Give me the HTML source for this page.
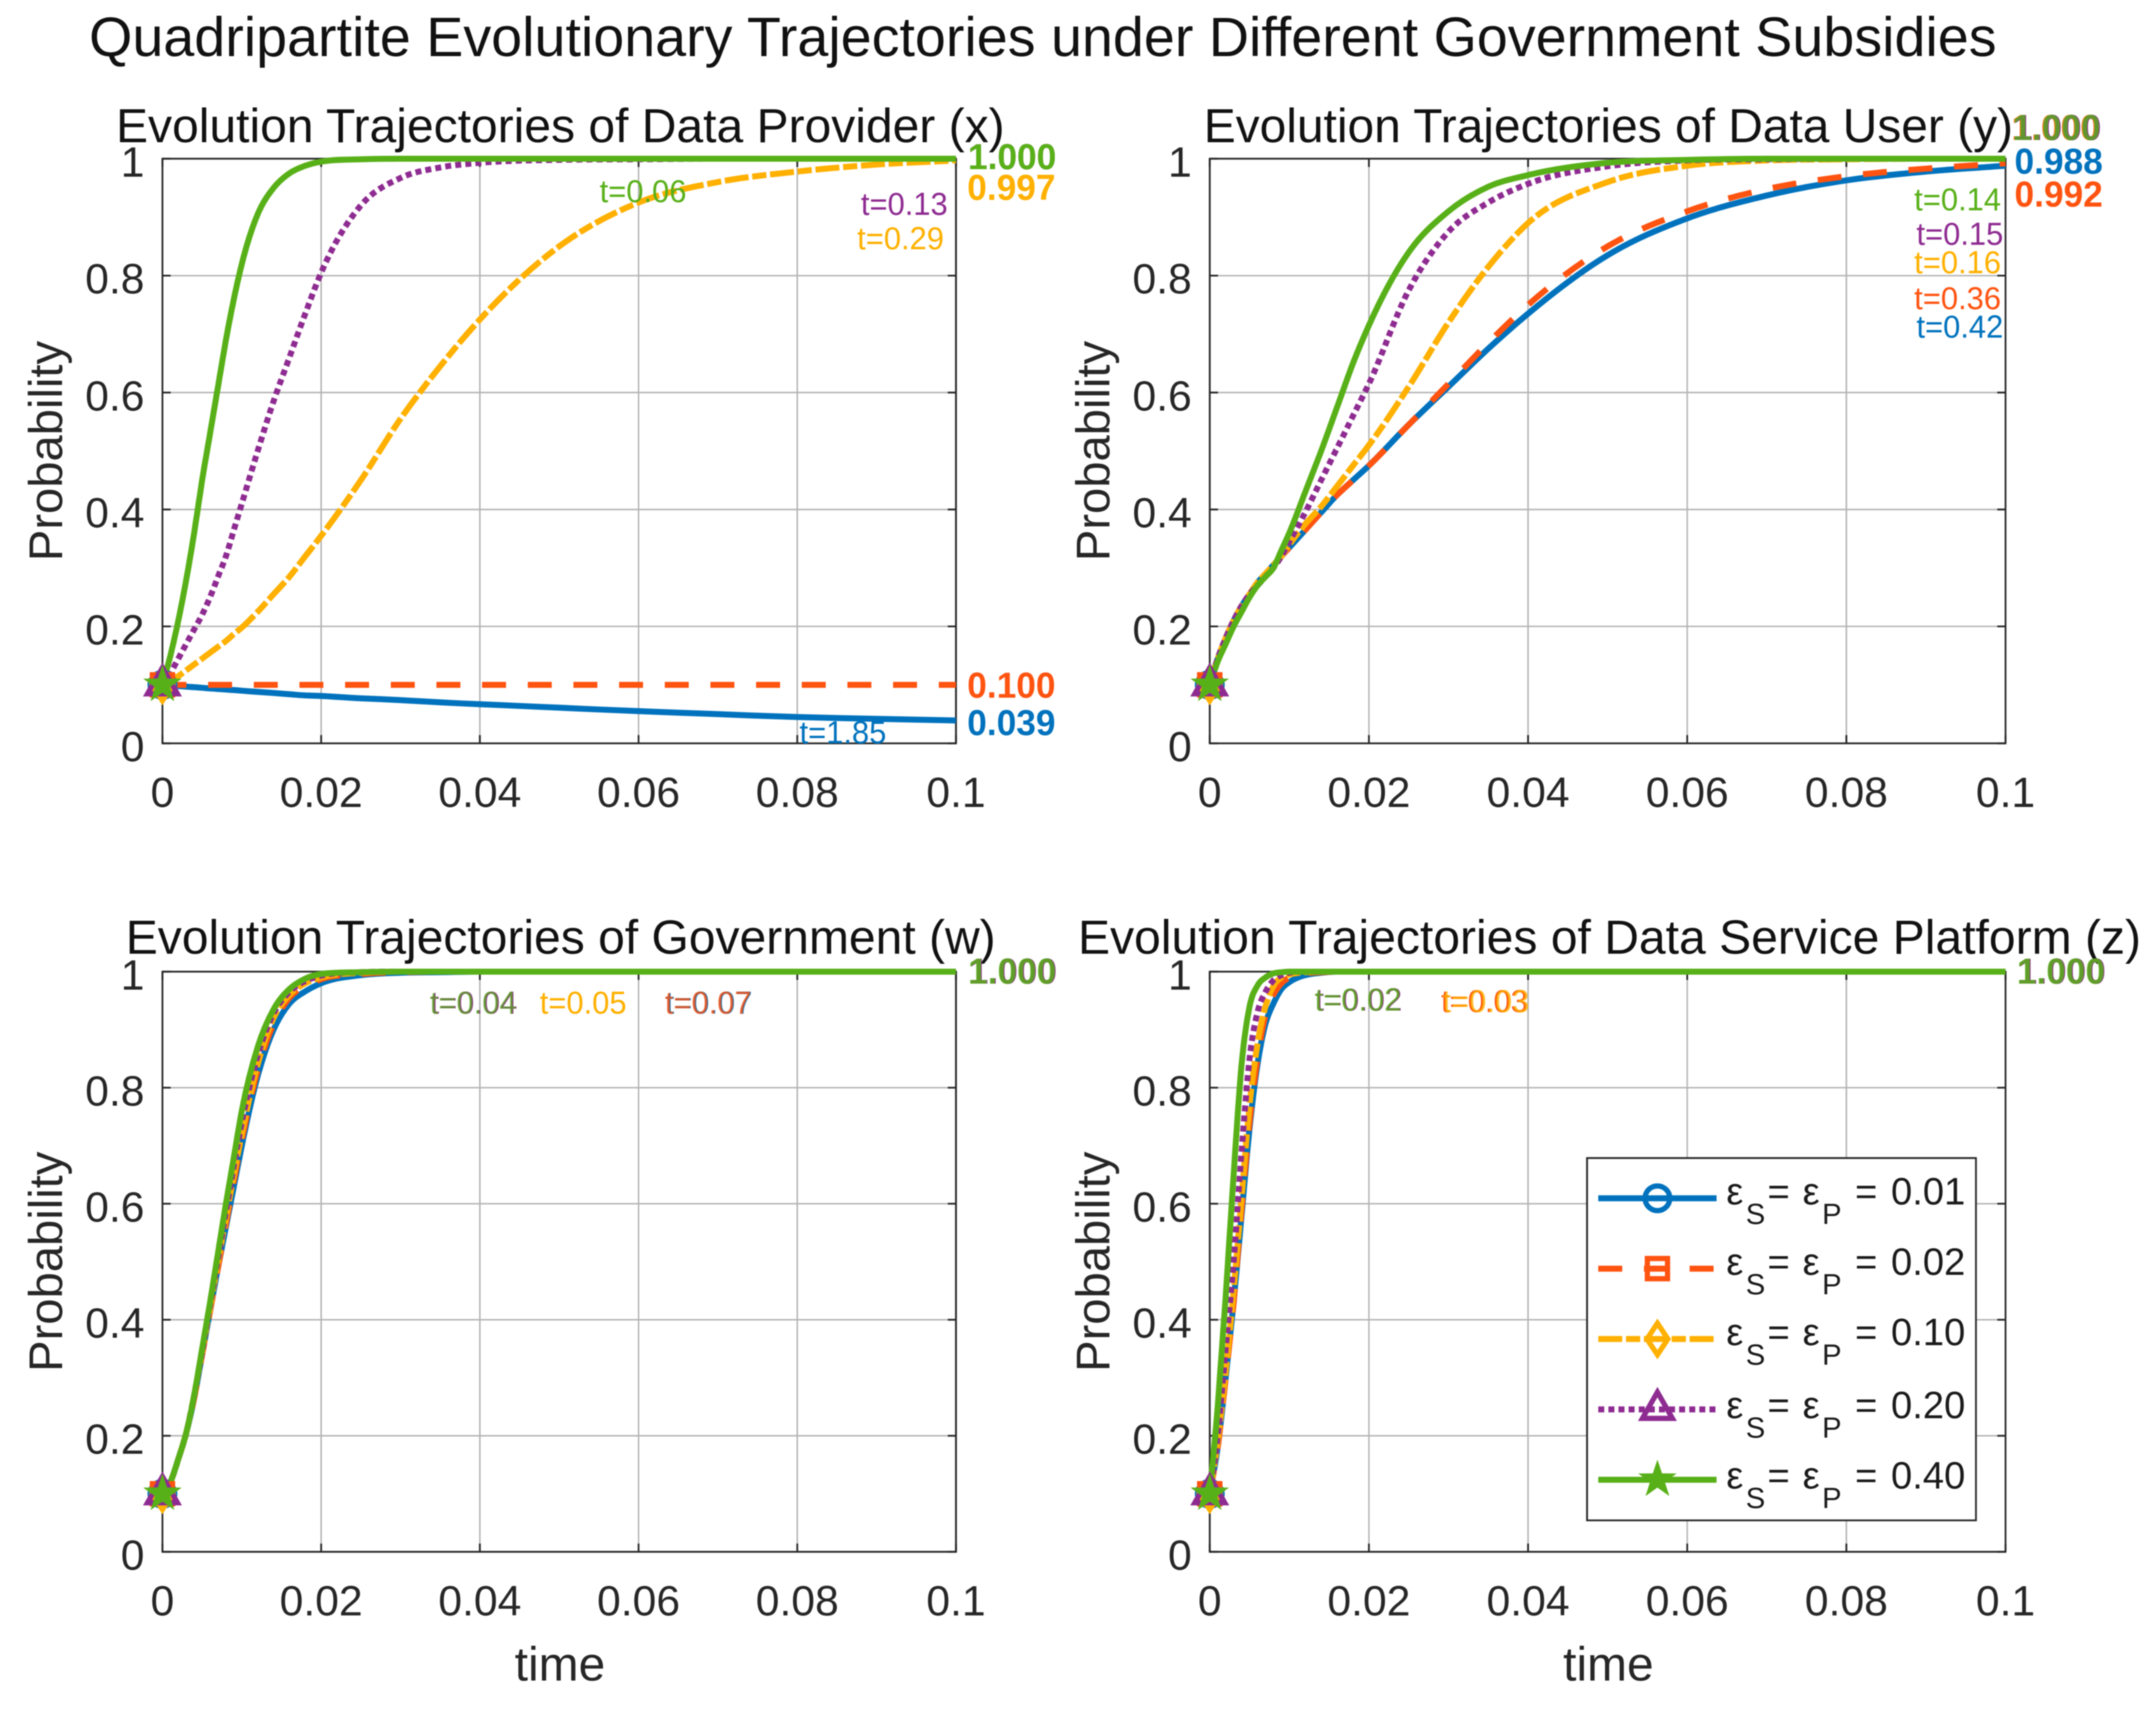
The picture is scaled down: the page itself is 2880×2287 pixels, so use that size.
<!DOCTYPE html>
<html lang="en">
<head>
<meta charset="utf-8">
<title>Quadripartite Evolutionary Trajectories</title>
<style>
html,body{margin:0;padding:0;background:#fff;}
svg{display:block;filter:blur(0.7px);}
text{font-family:"Liberation Sans",sans-serif;}
</style>
</head>
<body>
<svg id="figure" xmlns="http://www.w3.org/2000/svg" width="2880" height="2287" viewBox="0 0 2880 2287">
<rect x="0" y="0" width="2880" height="2287" fill="#fff"/>
<text x="119" y="75" font-size="74" fill="#111" textLength="2548" lengthAdjust="spacingAndGlyphs">Quadripartite Evolutionary Trajectories under Different Government Subsidies</text>
</svg>
<script>
const timeGrid = [0,.001,.002,.003,.004,.005,.006,.007,.008,.009,.01,.012,.014,.016,.018,.02,.025,.03,.035,.04,.05,.06,.07,.08,.09,.1];
const xTickValues = [0,.02,.04,.06,.08,.1];
const xTickLabels = ['0','0.02','0.04','0.06','0.08','0.1'];
const yTickValues = [0,.2,.4,.6,.8,1];
const yTickLabels = ['0','0.2','0.4','0.6','0.8','1'];
const seriesNames = ['eps-001','eps-002','eps-010','eps-020','eps-040'];
const legendValues = ['0.01','0.02','0.10','0.20','0.40'];

const providerBlue = [.1,.099,.098,.097,.096,.095,.094,.093,.092,.091,.09,.088,.086,.084,.082,.081,.077,.074,.07,.067,.061,.055,.05,.045,.042,.039];
const providerRed = [.1,.1,.1,.1,.1,.1,.1,.1,.1,.1,.1,.1,.1,.1,.1,.1,.1,.1,.1,.1,.1,.1,.1,.1,.1,.1];
const providerYellow = [.1,.107,.115,.125,.135,.145,.155,.165,.175,.187,.198,.225,.255,.285,.32,.355,.45,.555,.645,.725,.85,.925,.96,.978,.99,.997];
const providerPurple = [.1,.12,.145,.17,.195,.22,.25,.285,.32,.365,.41,.5,.585,.66,.735,.805,.92,.967,.985,.993,.998,.999,1,1,1,1];
const providerGreen = [.1,.15,.21,.28,.36,.45,.53,.61,.69,.76,.82,.905,.95,.975,.988,.995,.999,1,1,1,1,1,1,1,1,1];

const userBlue = [.1,.145,.18,.21,.235,.255,.275,.29,.305,.32,.335,.365,.395,.425,.45,.475,.545,.61,.675,.735,.835,.898,.937,.963,.978,.988];
const userRed = [.1,.145,.18,.21,.235,.255,.275,.29,.305,.32,.335,.365,.395,.425,.45,.475,.545,.615,.685,.75,.85,.91,.948,.97,.983,.992];
const userYellow = [.1,.145,.18,.21,.235,.255,.275,.29,.305,.32,.34,.375,.405,.44,.475,.51,.61,.72,.815,.89,.96,.988,.997,.999,1,1];
const userPurple = [.1,.145,.18,.21,.235,.255,.27,.285,.3,.32,.345,.395,.45,.505,.56,.615,.775,.875,.925,.957,.987,.997,.999,1,1,1];
const userGreen = [.1,.14,.17,.2,.225,.25,.27,.285,.3,.33,.36,.43,.5,.575,.65,.715,.84,.91,.952,.972,.993,.998,1,1,1,1];

const governmentBlue = [.1,.12,.16,.205,.265,.34,.415,.49,.56,.63,.7,.82,.9,.945,.966,.98,.994,.998,.999,1,1,1,1,1,1,1];
const governmentRed = [.1,.12,.16,.205,.265,.34,.415,.49,.565,.64,.71,.83,.91,.955,.975,.987,.996,.999,1,1,1,1,1,1,1,1];
const governmentYellow = [.1,.12,.16,.205,.27,.345,.42,.5,.575,.65,.72,.84,.92,.96,.98,.99,.998,1,1,1,1,1,1,1,1,1];
const governmentPurple = [.1,.12,.16,.205,.27,.345,.425,.505,.585,.665,.74,.855,.928,.965,.984,.993,.999,1,1,1,1,1,1,1,1,1];
const governmentGreen = [.1,.12,.16,.205,.27,.35,.43,.515,.6,.68,.76,.87,.935,.97,.988,.996,.999,1,1,1,1,1,1,1,1,1];

const platformBlue = [.1,.18,.3,.43,.58,.73,.84,.91,.945,.97,.982,.994,.998,1,1,1,1,1,1,1,1,1,1,1,1,1];
const platformRed = [.1,.18,.3,.43,.59,.74,.85,.925,.96,.98,.99,.997,.999,1,1,1,1,1,1,1,1,1,1,1,1,1];
const platformYellow = [.1,.19,.31,.45,.61,.77,.875,.94,.975,.99,.995,.999,1,1,1,1,1,1,1,1,1,1,1,1,1,1];
const platformPurple = [.1,.2,.35,.5,.69,.85,.93,.965,.985,.994,.998,1,1,1,1,1,1,1,1,1,1,1,1,1,1,1];
const platformGreen = [.1,.25,.44,.65,.84,.94,.976,.99,.997,.999,1,1,1,1,1,1,1,1,1,1,1,1,1,1,1,1];

const SVGNS = 'http://www.w3.org/2000/svg';
const figure = document.getElementById('figure');
const COLORS = ['#0072BD','#FF5310','#FFB000','#8E2B91','#58B018'];
const DASHES = ['', '32 29', '32 5 19 5', '8 5.5', ''];
const WIDTHS = [8,8,8,8,8];

function make(tag, attrs, parent){
  const el = document.createElementNS(SVGNS, tag);
  for(const k in attrs){ el.setAttribute(k, attrs[k]); }
  parent.appendChild(el);
  return el;
}
function write(str, x, y, size, fill, parent, opts){
  const o = opts || {};
  const el = make('text', {x:x, y:y, 'font-size':size, fill:fill}, parent);
  if(o.anchor){ el.setAttribute('text-anchor', o.anchor); }
  if(o.bold){ el.setAttribute('font-weight', 'bold'); }
  if(o.len){ el.setAttribute('textLength', o.len); el.setAttribute('lengthAdjust', 'spacingAndGlyphs'); }
  if(o.rotate){ el.setAttribute('transform', 'rotate(-90 '+x+' '+y+')'); }
  if(o.opacity){ el.setAttribute('fill-opacity', o.opacity); }
  el.textContent = str;
  return el;
}
function smoothPath(xs, ys){
  const n = xs.length, h = [], d = [], m = [];
  for(let i=0;i<n-1;i++){ h.push(xs[i+1]-xs[i]); d.push((ys[i+1]-ys[i])/h[i]); }
  m.push(d[0]);
  for(let i=1;i<n-1;i++){
    if(d[i-1]*d[i]<=0){ m.push(0); continue; }
    let s = (h[i]*d[i-1]+h[i-1]*d[i])/(h[i-1]+h[i]);
    const lim = 3*Math.min(Math.abs(d[i-1]),Math.abs(d[i]));
    if(Math.abs(s)>lim){ s = Math.sign(s)*lim; }
    m.push(s);
  }
  m.push(d[n-2]);
  let p = 'M'+xs[0].toFixed(1)+' '+ys[0].toFixed(1);
  for(let i=0;i<n-1;i++){
    const t = h[i]/3;
    p += 'C'+(xs[i]+t).toFixed(1)+' '+(ys[i]+m[i]*t).toFixed(1)+' '+(xs[i+1]-t).toFixed(1)+' '+(ys[i+1]-m[i+1]*t).toFixed(1)+' '+xs[i+1].toFixed(1)+' '+ys[i+1].toFixed(1);
  }
  return p;
}
function starPoints(cx, cy, R, r){
  const pts = [];
  for(let i=0;i<10;i++){
    const a = -Math.PI/2 + i*Math.PI/5, q = i%2 ? r : R;
    pts.push((cx+q*Math.cos(a)).toFixed(1)+','+(cy+q*Math.sin(a)).toFixed(1));
  }
  return pts.join(' ');
}
function drawMarker(idx, cx, cy, parent){
  const c = COLORS[idx];
  const base = {fill:'none', stroke:c, 'stroke-width':7};
  let el;
  if(idx===0){ el = make('circle', Object.assign({cx:cx, cy:cy, r:16.5}, base), parent); }
  if(idx===1){ el = make('rect', Object.assign({x:cx-13.5, y:cy-13.5, width:27, height:27}, base), parent); }
  if(idx===2){ el = make('polygon', Object.assign({points:cx+','+(cy-21)+' '+(cx+14)+','+cy+' '+cx+','+(cy+21)+' '+(cx-14)+','+cy}, base), parent); }
  if(idx===3){ el = make('polygon', Object.assign({points:cx+','+(cy-23)+' '+(cx+20)+','+(cy+12)+' '+(cx-20)+','+(cy+12)}, base), parent); }
  if(idx===4){ el = make('polygon', {points:starPoints(cx, cy, 27, 10.5), fill:c}, parent); }
  return el;
}

const panels = [
 {key:'data-provider', title:'Evolution Trajectories of Data Provider (x)', tx:155, ty:190, tlen:1187, L:217, R:1277, T:212, B:993,
  series:[providerBlue,providerRed,providerYellow,providerPurple,providerGreen], xlabel:false,
  notes:[['t=0.06',801,270,4],['t=0.13',1150,287,3],['t=0.29',1145,333,2],['t=1.85',1068,993,0]],
  ends:[['1.000',1293,226,3],['1.000',1293,226,4],['0.997',1292,267,2],['0.100',1292,932,1],['0.039',1292,982,0]]},
 {key:'data-user', title:'Evolution Trajectories of Data User (y)', tx:1608, ty:190, tlen:1081, L:1616, R:2679, T:212, B:993,
  series:[userBlue,userRed,userYellow,userPurple,userGreen], xlabel:false,
  notes:[['t=0.14',2557,281,4],['t=0.15',2560,327,3],['t=0.16',2557,365,2],['t=0.36',2557,413,1],['t=0.42',2560,451,0]],
  ends:[['1.000',2687,187,1],['1.000',2688,187,2],['1.000',2689,187,3],['1.000',2688,187,4,.8],['0.988',2691,232,0],['0.992',2691,276,1]]},
 {key:'government', title:'Evolution Trajectories of Government (w)', tx:168, ty:1274, tlen:1162, L:217, R:1277, T:1298, B:2073,
  series:[governmentBlue,governmentRed,governmentYellow,governmentPurple,governmentGreen], xlabel:true,
  notes:[['t=0.04',575,1354,3],['t=0.04',574,1354,4,.7],['t=0.05',721,1354,2],['t=0.07',889,1354,0],['t=0.07',888,1354,1,.8]],
  ends:[['1.000',1294,1314,3],['1.000',1293,1314,4,.85]]},
 {key:'data-service-platform', title:'Evolution Trajectories of Data Service Platform (z)', tx:1440, ty:1274, tlen:1420, L:1616, R:2679, T:1298, B:2073,
  series:[platformBlue,platformRed,platformYellow,platformPurple,platformGreen], xlabel:true,
  notes:[['t=0.02',1757,1350,3],['t=0.02',1756,1350,4,.8],['t=0.03',1925,1352,1],['t=0.03',1927,1352,2,.8]],
  ends:[['1.000',2695,1314,3],['1.000',2694,1314,4,.85]]}
];

panels.forEach(function(pn){
  const scaleX = function(t){ return pn.L + (t/0.1)*(pn.R-pn.L); };
  const scaleY = function(v){ return pn.B - v*(pn.B-pn.T); };
  const g = make('g', {}, figure);
  
  

  const title = write(pn.title, pn.tx, pn.ty, 64, '#111', g, {len:pn.tlen});
  
  

  xTickValues.forEach(function(v, i){
    const x = scaleX(v);
    if(i>0 && i<xTickValues.length-1){
      const gl = make('line', {x1:x, x2:x, y1:pn.T, y2:pn.B, stroke:'#b4b4b4', 'stroke-width':2}, g);
      
      
    }
  });
  yTickValues.forEach(function(v, i){
    const y = scaleY(v);
    if(i>0 && i<yTickValues.length-1){
      const gl = make('line', {x1:pn.L, x2:pn.R, y1:y, y2:y, stroke:'#b4b4b4', 'stroke-width':2}, g);
      
      
    }
  });
  const frame = make('rect', {x:pn.L, y:pn.T, width:pn.R-pn.L, height:pn.B-pn.T, fill:'none', stroke:'#262626', 'stroke-width':2.4}, g);
  
  

  xTickValues.forEach(function(v, i){
    const x = scaleX(v);
    const tb = make('line', {x1:x, x2:x, y1:pn.B, y2:pn.B-11, stroke:'#262626', 'stroke-width':2.4}, g);
    
    
    const tt = make('line', {x1:x, x2:x, y1:pn.T, y2:pn.T+11, stroke:'#262626', 'stroke-width':2.4}, g);
    
    
    const lab = write(xTickLabels[i], x, pn.B+85, 57, '#262626', g, {anchor:'middle'});
    
    
  });
  yTickValues.forEach(function(v, i){
    const y = scaleY(v);
    const tl = make('line', {x1:pn.L, x2:pn.L+11, y1:y, y2:y, stroke:'#262626', 'stroke-width':2.4}, g);
    
    
    const tr = make('line', {x1:pn.R, x2:pn.R-11, y1:y, y2:y, stroke:'#262626', 'stroke-width':2.4}, g);
    
    
    const lab = write(yTickLabels[i], pn.L-24, y+24, 57, '#262626', g, {anchor:'end'});
    
    
  });

  const yt = write('Probability', pn.L-134, (pn.T+pn.B)/2, 63, '#262626', g, {anchor:'middle', rotate:true});
  
  
  if(pn.xlabel){
    const xt = write('time', (pn.L+pn.R)/2+1, pn.B+172, 64, '#262626', g, {anchor:'middle'});
    
    
  }

  pn.series.forEach(function(vals, idx){
    const d = smoothPath(timeGrid.map(scaleX), vals.map(scaleY));
    const line = make('path', {d:d, fill:'none', stroke:COLORS[idx], 'stroke-width':WIDTHS[idx], 'stroke-linejoin':'round'}, g);
    if(DASHES[idx]){ line.setAttribute('stroke-dasharray', DASHES[idx]); }
    
    
  });
  pn.series.forEach(function(vals, idx){
    const mk = drawMarker(idx, scaleX(timeGrid[0]), scaleY(vals[0]), g);
    
    
  });

  pn.notes.forEach(function(n){
    const t = write(n[0], n[1], n[2], 43, COLORS[n[3]], g, {len:116, opacity:n[4]});
    
    
  });
  pn.ends.forEach(function(n){
    const t = write(n[0], n[1], n[2], 48, COLORS[n[3]], g, {bold:true, len:118, opacity:n[4]});
    
    
  });
});

const legend = make('g', {}, figure);


const legendBox = make('rect', {x:2120, y:1547, width:519.5, height:484, fill:'#fff', stroke:'#262626', 'stroke-width':2.4}, legend);



legendValues.forEach(function(val, i){
  const rowY = 1600.7 + i*94;
  const entry = make('g', {}, legend);
  
  
  const sample = make('line', {x1:2135, x2:2293, y1:rowY, y2:rowY, stroke:COLORS[i], 'stroke-width':8}, entry);
  if(DASHES[i]){ sample.setAttribute('stroke-dasharray', DASHES[i]); }
  
  
  const mk = drawMarker(i, 2214, rowY, entry);
  
  
  const base = rowY + (i < 3 ? 8.5 : 12);
  const label = make('text', {'font-size':51, fill:'#1a1a1a', y:base}, entry);
  
  
  const parts = [['ε',2306,base,51],['S',2332,base+26,39],['=',2361,base,51],['ε',2408,base,51],['P',2434,base+26,39],['=',2478,base,51],[val,2526,base,51]];
  parts.forEach(function(p){
    const ts = make('tspan', {x:p[1], y:p[2], 'font-size':p[3]}, label);
    ts.textContent = p[0];
  });
});
</script>
</body>
</html>
